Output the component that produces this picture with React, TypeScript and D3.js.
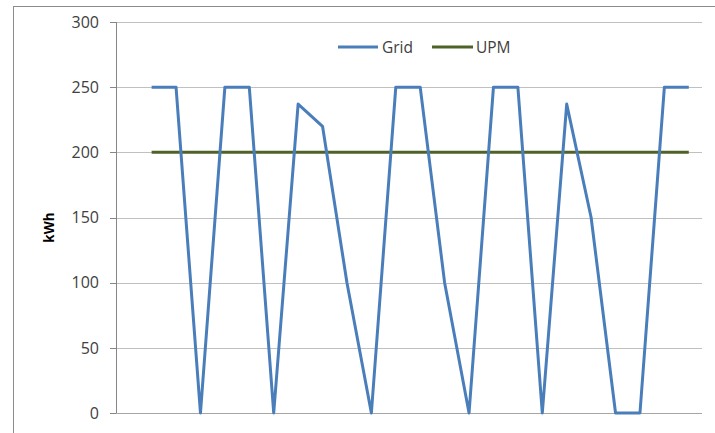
import React from "react";
import * as d3 from "d3";

const categories: number[] = d3.range(1, 25);
const gridValues: (number | null)[] = [
  null, 250, 250, 0, 250, 250, 0, 237, 220, 100, 0, 250, 250, 100, 0, 250, 250, 0, 237, 150, 0, 0, 250, 250,
];
const upmValues: (number | null)[] = [
  null, 200, 200, 200, 200, 200, 200, 200, 200, 200, 200, 200, 200, 200, 200, 200, 200, 200, 200, 200, 200, 200, 200, 200,
];
const yTicks: number[] = [0, 50, 100, 150, 200, 250, 300];
const seriesNames: string[] = ["Grid", "UPM"];

const W = 715;
const H = 433;
const plotLeft = 116;
const plotRight = 702;
const plotTop = 22;
const plotBottom = 413;
const font = "'Open Sans', 'Noto Sans', sans-serif";

export default function App() {
  const x = d3
    .scaleBand<number>()
    .domain(categories)
    .range([plotLeft - 1, plotRight - 1]);
  const y = d3.scaleLinear().domain([0, 300]).range([plotBottom, plotTop]);
  const cx = (i: number) => (x(categories[i]) as number) + x.bandwidth() / 2;

  const line = d3
    .line<number | null>()
    .defined((d) => d !== null)
    .x((_, i) => cx(i))
    .y((d) => y(d as number));

  const colors = ["#4a7ebb", "#4f6228"];

  return (
    <svg
      width={W}
      height={H}
      style={{ position: "absolute", left: 0, top: 0, background: "#fff" }}
    >
      <rect x={13.5} y={6.5} width={W + 20} height={H + 20} fill="#fff" stroke="#8c8c8c" strokeWidth={1} />
      {yTicks.map((t) => (
        <g key={t}>
          <line x1={plotLeft} x2={plotRight} y1={Math.round(y(t)) + 0.5} y2={Math.round(y(t)) + 0.5} stroke={t === 0 ? "#a6a6a6" : "#c0c0c0"} strokeWidth={1} />
          <line x1={plotLeft - 6} x2={plotLeft} y1={Math.round(y(t)) + 0.5} y2={Math.round(y(t)) + 0.5} stroke="#868686" />
          <text x={plotLeft - 17} y={y(t)} dy="0.36em" textAnchor="end" fontFamily={font} fontSize={16} fill="#404040">
            {t}
          </text>
        </g>
      ))}
      <line x1={plotLeft + 0.5} x2={plotLeft + 0.5} y1={plotTop} y2={plotBottom} stroke="#868686" />
      <text
        transform={`translate(54,${(plotTop + plotBottom) / 2 + 10}) rotate(-90)`}
        textAnchor="middle"
        fontFamily={font}
        fontSize={13.5}
        fontWeight="bold"
        fill="#000"
      >
        kWh
      </text>
      <path d={line(upmValues) || ""} fill="none" stroke={colors[1]} strokeWidth={3} />
      <path d={line(gridValues) || ""} fill="none" stroke={colors[0]} strokeWidth={3} strokeLinejoin="round" />
      <g>
        <line x1={338} x2={378} y1={47} y2={47} stroke={colors[0]} strokeWidth={3} />
        <text x={382} y={47} dy="0.36em" fontFamily={font} fontSize={15.5} fill="#404040">
          {seriesNames[0]}
        </text>
        <line x1={432} x2={473} y1={47} y2={47} stroke={colors[1]} strokeWidth={3} />
        <text x={476} y={47} dy="0.36em" fontFamily={font} fontSize={15.5} fill="#404040">
          {seriesNames[1]}
        </text>
      </g>
    </svg>
  );
}
